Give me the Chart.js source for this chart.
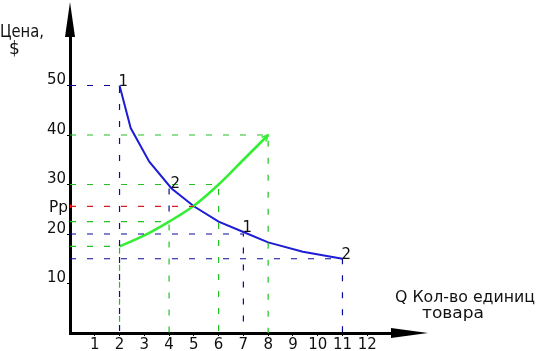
<!DOCTYPE html>
<html>
<head>
<meta charset="utf-8">
<script src="https://cdn.jsdelivr.net/npm/chart.js@4/dist/chart.umd.min.js"></script>
<style>
  html, body { margin: 0; padding: 0; background: #fff; }
  #wrap { width: 541px; height: 351px; }
</style>
</head>
<body>
<div id="wrap"><canvas id="c" width="541" height="351"></canvas></div>
<script>
// ---- data ----
const demandQ = [2, 2.45, 3.2, 4.1, 5, 6, 7, 8, 9.4, 11];
const demandP = [50, 41.4, 34.6, 29.2, 25.6, 22.5, 20.4, 18.3, 16.4, 15];
const supplyQ = [2, 3, 4, 5, 6, 7, 8];
const supplyP = [17.5, 19.7, 22.5, 25.7, 30, 35, 40];
// guide (dashed) corners: [quantity, price]
const guidesBlue  = [[2, 50], [7, 20], [11, 15]];
const blueDrop    = [4, 29.2, 22.5];     // short blue drop at q=4 from p1 to p2
const guidesGreen = [[8, 40], [6, 30], [4, 22.5], [2, 17.5]];
const equilibrium = [5, 25.6];           // Pp
const xTicks = [1, 2, 3, 4, 5, 6, 7, 8, 9, 10, 11, 12];
const yTicks = [10, 20, 30, 40, 50];
const pointLabelQ = [2, 4.1, 7, 11];
const pointLabelP = [50, 29.2, 20.4, 15];
const pointLabelT = ['1', '2', '1', '2'];
const yTitle = ['Цена,', '$'];
const xTitle = ['Q Кол-во единиц', 'товара'];
const ppLabel = 'Pp';

// ---- build datasets ----
const FONT = '"DejaVu Sans", sans-serif';
const dashStyle = [6, 11];
function guideDataset(g, color) {
  const q = g[0], p = g[1];
  return {
    data: [{x: 0, y: p}, {x: q, y: p}, {x: q, y: 0}],
    showLine: true, borderColor: color, borderWidth: 1.2, borderDash: dashStyle,
    pointRadius: 0, tension: 0, fill: false
  };
}
const datasets = [];
datasets.push({data: [{x: blueDrop[0], y: blueDrop[1]}, {x: blueDrop[0], y: blueDrop[2]}], showLine: true,
  borderColor: '#0a0a99', borderWidth: 1.2, borderDash: dashStyle, pointRadius: 0});
guidesGreen.forEach(g => datasets.push(guideDataset(g, '#22c222')));
guidesBlue.forEach(g => datasets.push(guideDataset(g, '#0a0a99')));
datasets.push({
  data: [{x: 0, y: equilibrium[1]}, {x: equilibrium[0], y: equilibrium[1]}],
  showLine: true, borderColor: '#d42020', borderWidth: 1.2, borderDash: dashStyle,
  pointRadius: [2, 0], pointBackgroundColor: '#ff0000', pointBorderWidth: 0
});
datasets.push({
  data: supplyQ.map((q, i) => ({x: q, y: supplyP[i]})),
  showLine: true, borderColor: '#33ee33', borderWidth: 2.5, pointRadius: 0,
  cubicInterpolationMode: 'monotone'
});
datasets.push({
  data: demandQ.map((q, i) => ({x: q, y: demandP[i]})),
  showLine: true, borderColor: '#1d1dd6', borderWidth: 2, pointRadius: 0, tension: 0
});

function drawText(ctx, txt, x, y, targetW) {
  const w = ctx.measureText(txt).width;
  const s = targetW ? targetW / w : 1;
  ctx.save();
  ctx.translate(x, y);
  ctx.scale(s, 1);
  ctx.fillText(txt, 0, 0);
  ctx.restore();
}

const decor = {
  id: 'decor',
  afterDraw(chart) {
    const ctx = chart.ctx;
    const xs = chart.scales.x, ys = chart.scales.y;
    const ca = chart.chartArea;
    const x0 = xs.getPixelForValue(0), y0 = ys.getPixelForValue(0);
    ctx.save();
    // axis arrows
    ctx.fillStyle = '#000';
    ctx.beginPath();
    ctx.moveTo(x0 - 5, ca.top + 1);
    ctx.lineTo(x0 + 5, ca.top + 1);
    ctx.lineTo(x0, 2);
    ctx.closePath();
    ctx.fill();
    ctx.beginPath();
    ctx.moveTo(ca.right - 1, y0 - 5);
    ctx.lineTo(ca.right - 1, y0 + 5);
    ctx.lineTo(ca.right + 36, y0);
    ctx.closePath();
    ctx.fill();
    // supply arrow head
    const n = supplyQ.length;
    const ex = xs.getPixelForValue(supplyQ[n - 1]), ey = ys.getPixelForValue(supplyP[n - 1]);
    const px = xs.getPixelForValue(supplyQ[n - 2]), py = ys.getPixelForValue(supplyP[n - 2]);
    const ang = Math.atan2(ey - py, ex - px);
    ctx.strokeStyle = '#33ee33';
    ctx.lineWidth = 1.5;
    ctx.beginPath();
    ctx.moveTo(ex - 7 * Math.cos(ang - 0.45), ey - 7 * Math.sin(ang - 0.45));
    ctx.lineTo(ex, ey);
    ctx.lineTo(ex - 7 * Math.cos(ang + 0.45), ey - 7 * Math.sin(ang + 0.45));
    ctx.stroke();
    // texts
    ctx.fillStyle = '#111';
    ctx.font = '15px ' + FONT;
    ctx.textBaseline = 'alphabetic';
    ctx.textAlign = 'left';
    for (let i = 0; i < pointLabelT.length; i++) {
      const lx = xs.getPixelForValue(pointLabelQ[i]);
      const ly = ys.getPixelForValue(pointLabelP[i]);
      ctx.fillText(pointLabelT[i], lx - 1, ly);
    }
    ctx.font = '17px ' + FONT;
    drawText(ctx, yTitle[0], 0, 37, 44);
    drawText(ctx, yTitle[1], 9, 54);
    ctx.font = '16px ' + FONT;
    drawText(ctx, xTitle[0], 395, 302, 140);
    drawText(ctx, xTitle[1], 422, 318, 62);
    ctx.font = '15px ' + FONT;
    drawText(ctx, ppLabel, 49, 212, 19);
    ctx.restore();
  }
};

new Chart(document.getElementById('c'), {
  type: 'scatter',
  data: { datasets },
  options: {
    responsive: false,
    animation: false,
    devicePixelRatio: 1,
    layout: { padding: { left: 0, top: 36, right: 149, bottom: 0 } },
    plugins: { legend: { display: false }, tooltip: { enabled: false } },
    scales: {
      x: {
        type: 'linear', min: 0, max: 13,
        afterFit(s) { s.height = 18; s.paddingLeft = 0; s.paddingRight = 0; },
        afterBuildTicks(s) { s.ticks = xTicks.map(v => ({value: v})); },
        grid: { drawOnChartArea: false, color: '#000', tickLength: 3, lineWidth: 1 },
        border: { color: '#000', width: 3 },
        ticks: { color: '#111', font: { family: FONT, size: 15 }, padding: 0, maxRotation: 0, autoSkip: false }
      },
      y: {
        type: 'linear', min: 0, max: 60,
        afterFit(s) { s.width = 70; s.paddingTop = 0; s.paddingBottom = 0; },
        afterBuildTicks(s) { s.ticks = yTicks.map(v => ({value: v})); },
        grid: { drawOnChartArea: false, color: '#000', tickLength: 3, lineWidth: 1 },
        border: { color: '#000', width: 3 },
        ticks: { color: '#111', font: { family: FONT, size: 15 }, padding: 1, labelOffset: -5, autoSkip: false }
      }
    }
  },
  plugins: [decor]
});
</script>
</body>
</html>
